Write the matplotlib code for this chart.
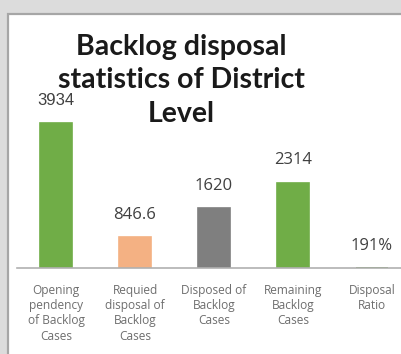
import matplotlib
matplotlib.use('Agg')
import matplotlib.pyplot as plt
from matplotlib.patches import Rectangle

# bar data
categories = ['Opening\npendency\nof Backlog\nCases',
              'Requied\ndisposal of\nBacklog\nCases',
              'Disposed of\nBacklog\nCases',
              'Remaining\nBacklog\nCases',
              'Disposal\nRatio']
values = [3934, 846.6, 1620, 2314, 1.91]
value_labels = ['3934', '846.6', '1620', '2314', '191%']
colors = ['#70ad47', '#f4b183', '#7f7f7f', '#70ad47', '#5e8f3c']
title_lines = ['Backlog disposal', 'statistics of District', 'Level']

W, H = 401, 354
fig = plt.figure(figsize=(W / 100, H / 100), dpi=100)
fig.patch.set_facecolor('#dcdcdc')

# white chart panel with a grey frame
panel = Rectangle((7.5 / W, -0.05), 1.1, (H - 13.5) / H + 0.05,
                  transform=fig.transFigure, facecolor='white',
                  edgecolor='#a6a6a6', linewidth=1.6, zorder=-10)
fig.patches.append(panel)

# plot area in pixels
ax_left, ax_bottom, ax_w, ax_h = 16.5, 86, 395, 240
ax = fig.add_axes([ax_left / W, ax_bottom / H, ax_w / W, ax_h / H])
ax.set_facecolor('none')
px_per_unit = 145 / 3934
ax.set_ylim(0, ax_h / px_per_unit)
ax.set_xlim(-0.5, len(values) - 0.5)

x = range(len(values))
ax.bar(x, values, width=0.4, color=colors, edgecolor=colors, linewidth=1.2, zorder=2)

for xi, v, lab in zip(x, values, value_labels):
    fam = 'Liberation Sans' if xi == 0 else 'Open Sans'
    ax.annotate(lab, (xi, v), xytext=(0, 16), textcoords='offset points',
                ha='center', va='center', fontsize=12, color='#404040',
                family=fam)

ax.set_xticks(list(x))
ax.set_xticklabels(categories, fontsize=8.6, color='#6e6e6e', family='Open Sans',
                   linespacing=1.22, va='top')
ax.tick_params(axis='x', length=0, pad=11.5)
ax.set_yticks([])
for s in ['top', 'right', 'left']:
    ax.spines[s].set_visible(False)
ax.spines['bottom'].set_color('#b0b0b0')
ax.spines['bottom'].set_linewidth(1.2)

# title, one text per line, placed by baseline
for i, line in enumerate(title_lines):
    fig.text(181 / W, 1 - (55 + 33.5 * i) / H, line,
             ha='center', va='baseline', fontsize=20.5, fontweight='bold',
             color='#1a1a1a', family='Lato')

fig.savefig('out.png', dpi=100)
